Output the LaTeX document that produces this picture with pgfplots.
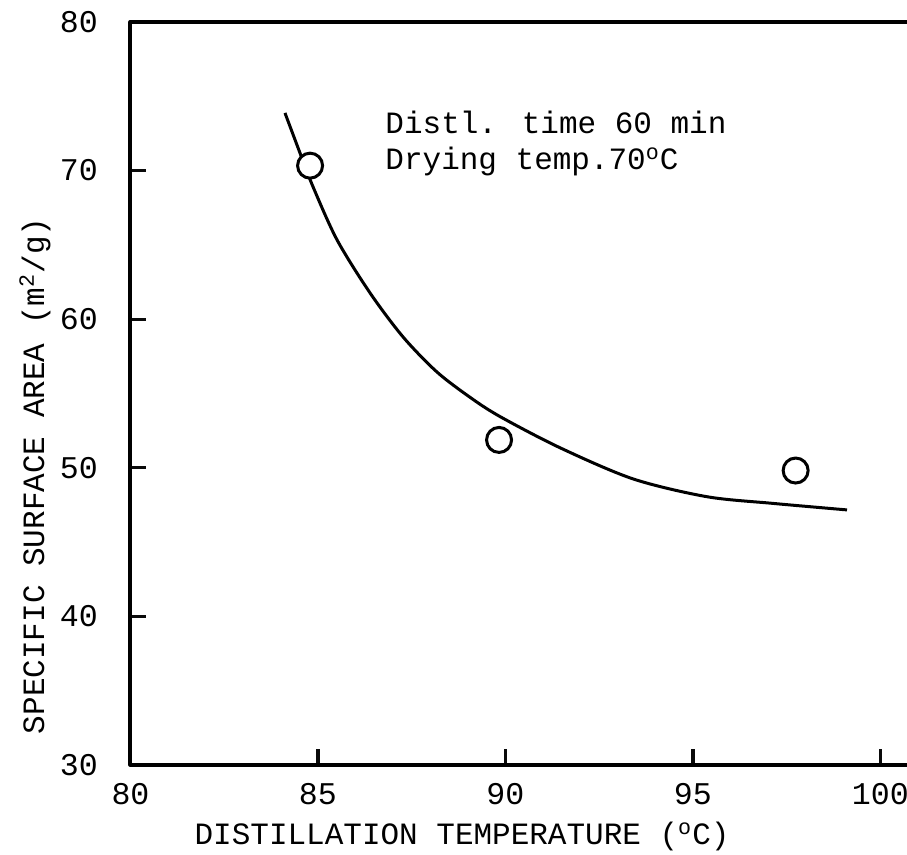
\documentclass[border=0pt]{standalone}
\usepackage{fontspec}
\setmainfont{Liberation Mono}
\usepackage{pgfplots}
\pgfplotsset{compat=1.18}
\definecolor{tickc}{RGB}{10,10,10}
\begin{document}
\fontsize{15.5}{18}\selectfont
\begin{tikzpicture}
\begin{axis}[
  x=18.75pt, y=7.43pt,
  xmin=80, xmax=100.71, ymin=30, ymax=80,
  axis line style={draw=none},
  tick align=inside,
  major tick length=8pt,
  every tick/.style={line width=1.6pt, draw=tickc},
  xtick={80,85,...,100}, ytick={30,40,...,80},
  xtick pos=left, ytick pos=left,
  /pgf/number format/assume math mode=true,
  ticklabel style={font=\fontsize{15.8}{18}\selectfont},
  yticklabel style={xshift=-11pt},
  xticklabel style={yshift=-4pt},
  xlabel={DISTILLATION TEMPERATURE (\textsuperscript{o}C)},
  ylabel={SPECIFIC SURFACE AREA (m\textsuperscript{2}/g)},
  xlabel style={at={(axis description cs:0.427,-0.097)}, anchor=center},
  ylabel style={at={(axis description cs:-0.123,0.389)}, anchor=center},
  clip=false,
]
\draw[line width=2pt, black, line join=round] (rel axis cs:1,1) -- (rel axis cs:0,1) -- (rel axis cs:0,0) -- (rel axis cs:1,0);
\addplot[smooth, line width=1.5pt, black, no markers] coordinates {
(84.12,73.88) (84.52,71.19) (84.87,68.90) (85.51,65.33) (86.39,61.76)
(87.27,58.80) (88.17,56.45) (89.05,54.75) (89.85,53.45) (91.45,51.35)
(93.40,49.25) (95.37,48.05) (97.13,47.6) (99.11,47.16)
};
\addplot[only marks, mark=*, mark size=6.25pt, mark options={line width=1.5pt, draw=black, fill=white}] coordinates {
(84.79,70.33) (89.83,51.87) (97.74,49.81)
};
\node[anchor=west, inner sep=0pt] at (axis cs:86.79,73.27) {Distl. time 60 min};
\node[anchor=west, inner sep=0pt] at (axis cs:86.79,70.58) {Drying temp.70\textsuperscript{o}C};
\coordinate (bbA) at (axis cs:76.52,81.48);
\coordinate (bbB) at (axis cs:100.71,23.94);
\end{axis}
\pgfresetboundingbox
\path[use as bounding box] (bbA) rectangle (bbB);
\end{tikzpicture}
\end{document}
